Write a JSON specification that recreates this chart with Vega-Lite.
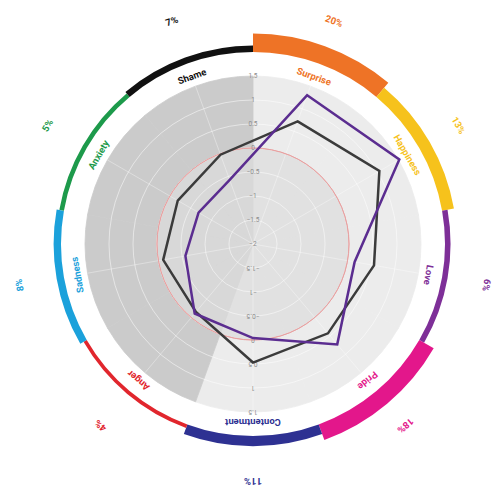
{
  "$schema": "https://vega.github.io/schema/vega-lite/v6.json",
  "width": 480,
  "height": 480,
  "autosize": {"type": "none"},
  "padding": {"left": 13, "top": 4, "right": 0, "bottom": 5},
  "background": "white",
  "config": {"view": {"stroke": null}, "font": "Roboto"},
  "datasets": {
    "cats": [
      {"idx": 0, "cat": "Surprise", "pct": 0.20, "valence": "positive"},
      {"idx": 1, "cat": "Happiness", "pct": 0.13, "valence": "positive"},
      {"idx": 2, "cat": "Love", "pct": 0.06, "valence": "positive"},
      {"idx": 3, "cat": "Pride", "pct": 0.18, "valence": "positive"},
      {"idx": 4, "cat": "Contentment", "pct": 0.11, "valence": "positive"},
      {"idx": 5, "cat": "Anger", "pct": 0.04, "valence": "negative"},
      {"idx": 6, "cat": "Sadness", "pct": 0.08, "valence": "negative"},
      {"idx": 7, "cat": "Anxiety", "pct": 0.05, "valence": "negative"},
      {"idx": 8, "cat": "Shame", "pct": 0.07, "valence": "negative"}
    ],
    "radar": [
      {"series": "A", "idx": 0, "cat": "Surprise", "value": 0.72},
      {"series": "A", "idx": 1, "cat": "Happiness", "value": 1.04},
      {"series": "A", "idx": 2, "cat": "Love", "value": 0.56},
      {"series": "A", "idx": 3, "cat": "Pride", "value": 0.43},
      {"series": "A", "idx": 4, "cat": "Contentment", "value": 0.47},
      {"series": "A", "idx": 5, "cat": "Anger", "value": -0.15},
      {"series": "A", "idx": 6, "cat": "Sadness", "value": -0.10},
      {"series": "A", "idx": 7, "cat": "Anxiety", "value": -0.19},
      {"series": "A", "idx": 8, "cat": "Shame", "value": -0.02},
      {"series": "B", "idx": 0, "cat": "Surprise", "value": 1.30},
      {"series": "B", "idx": 1, "cat": "Happiness", "value": 1.52},
      {"series": "B", "idx": 2, "cat": "Love", "value": 0.15},
      {"series": "B", "idx": 3, "cat": "Pride", "value": 0.73},
      {"series": "B", "idx": 4, "cat": "Contentment", "value": -0.04},
      {"series": "B", "idx": 5, "cat": "Anger", "value": -0.11},
      {"series": "B", "idx": 6, "cat": "Sadness", "value": -0.57},
      {"series": "B", "idx": 7, "cat": "Anxiety", "value": -0.69},
      {"series": "B", "idx": 8, "cat": "Shame", "value": -0.58}
    ],
    "ticks": [
      {"v": -2}, {"v": -1.5}, {"v": -1}, {"v": -0.5}, {"v": 0}, {"v": 0.5}, {"v": 1}, {"v": 1.5}
    ]
  },
  "layer": [
    {
      "data": {"name": "cats"},
      "transform": [{"window": [{"op": "row_number", "as": "end"}], "sort": [{"field": "idx", "order": "ascending"}]}],
      "mark": {"type": "arc", "radius": 168, "strokeWidth": 0.8},
      "encoding": {
        "theta": {"field": "idx", "type": "quantitative", "stack": null, "scale": {"domain": [0, 9], "range": [0, 6.283185307]}},
        "theta2": {"field": "end"},
        "color": {"field": "valence", "type": "nominal", "legend": null, "scale": {"domain": ["positive", "negative"], "range": ["#ececec", "#cbcbcb"]}},
        "stroke": {"field": "valence", "type": "nominal", "legend": null, "scale": {"domain": ["positive", "negative"], "range": ["#ececec", "#cbcbcb"]}}
      }
    },
    {
      "data": {"name": "cats"},
      "transform": [{"window": [{"op": "row_number", "as": "end2"}], "sort": [{"field": "idx", "order": "ascending"}]}],
      "mark": {"type": "arc", "outerRadius": 96, "strokeWidth": 0.8},
      "encoding": {
        "theta": {"field": "idx", "type": "quantitative", "stack": null, "scale": {"domain": [0, 9], "range": [0, 6.283185307]}},
        "theta2": {"field": "end2"},
        "color": {"field": "valence", "type": "nominal", "legend": null, "scale": {"domain": ["positive", "negative"], "range": ["#e1e1e1", "#d8d8d8"]}},
        "stroke": {"field": "valence", "type": "nominal", "legend": null, "scale": {"domain": ["positive", "negative"], "range": ["#e1e1e1", "#d8d8d8"]}}
      }
    },
    {
      "data": {"name": "cats"},
      "transform": [
        {"calculate": "0", "as": "ox"},
        {"calculate": "3.5 * sin((datum.idx * 40 + 20) * PI / 180)", "as": "ex"},
        {"calculate": "3.5 * cos((datum.idx * 40 + 20) * PI / 180)", "as": "ey"}
      ],
      "mark": {"type": "rule", "color": "#ffffff", "strokeOpacity": 0.35, "strokeWidth": 1},
      "encoding": {
        "x": {"field": "ox", "type": "quantitative", "axis": null, "scale": {"domain": [-5, 5]}},
        "y": {"field": "ox", "type": "quantitative", "axis": null, "scale": {"domain": [-5, 5]}},
        "x2": {"field": "ex"},
        "y2": {"field": "ey"}
      }
    },
    {
      "data": {"name": "ticks"},
      "transform": [{"filter": "datum.v > -2 && datum.v < 1.5 && datum.v != 0"}],
      "mark": {"type": "arc", "fillOpacity": 0, "fill": "#ffffff", "theta": 0, "theta2": 6.2832, "stroke": "#ffffff", "strokeOpacity": 0.5, "strokeWidth": 1},
      "encoding": {
        "radius": {"field": "v", "type": "quantitative", "stack": null, "scale": {"type": "linear", "domain": [-2, 3], "range": [0, 240]}}
      }
    },
    {
      "data": {"name": "ticks"},
      "transform": [{"filter": "datum.v == 0"}],
      "mark": {"type": "arc", "fillOpacity": 0, "fill": "#ffffff", "theta": 0, "theta2": 6.2832, "stroke": "#e6a2a2", "strokeWidth": 1},
      "encoding": {
        "radius": {"field": "v", "type": "quantitative", "stack": null, "scale": {"type": "linear", "domain": [-2, 3], "range": [0, 240]}}
      }
    },
    {
      "data": {"name": "cats"},
      "transform": [{"window": [{"op": "row_number", "as": "end"}], "sort": [{"field": "idx", "order": "ascending"}]}],
      "mark": {"type": "arc", "radius2": 192},
      "encoding": {
        "theta": {"field": "idx", "type": "quantitative", "stack": null, "scale": {"domain": [0, 9], "range": [0, 6.283185307]}},
        "theta2": {"field": "end"},
        "radius": {"field": "pct", "type": "quantitative", "stack": null, "scale": {"type": "linear", "domain": [0, 0.2], "range": [192, 210.5]}},
        "color": {"field": "cat", "type": "nominal", "legend": null, "scale": {"domain": ["Surprise", "Happiness", "Love", "Pride", "Contentment", "Anger", "Sadness", "Anxiety", "Shame"], "range": ["#ee7326", "#f6c21c", "#7e2f98", "#e3178b", "#2e3192", "#e1262d", "#1ba1db", "#1d9a4b", "#111111"]}}
      }
    },
    {
      "data": {"name": "cats"},
      "mark": {"type": "text", "radius": 178, "fontSize": 9.5, "fontWeight": "bold", "align": "center", "baseline": "middle"},
      "encoding": {
        "theta": {"field": "idx", "type": "quantitative", "stack": null, "scale": {"domain": [-0.5, 8.5], "range": [0, 6.283185307]}},
        "angle": {"field": "idx", "type": "quantitative", "scale": {"domain": [0, 9], "range": [20, 380]}},
        "text": {"field": "cat", "type": "nominal"},
        "color": {"field": "cat", "type": "nominal", "legend": null, "scale": {"domain": ["Surprise", "Happiness", "Love", "Pride", "Contentment", "Anger", "Sadness", "Anxiety", "Shame"], "range": ["#ee7326", "#f6c21c", "#7e2f98", "#e3178b", "#2e3192", "#e1262d", "#1ba1db", "#1d9a4b", "#111111"]}}
      }
    },
    {
      "data": {"name": "cats"},
      "mark": {"type": "text", "radius": 237, "fontSize": 9.5, "fontWeight": "bold", "align": "center", "baseline": "middle"},
      "encoding": {
        "theta": {"field": "idx", "type": "quantitative", "stack": null, "scale": {"domain": [-0.5, 8.5], "range": [0, 6.283185307]}},
        "angle": {"field": "idx", "type": "quantitative", "scale": {"domain": [0, 9], "range": [20, 380]}},
        "text": {"field": "pct", "type": "quantitative", "format": ".0%"},
        "color": {"field": "cat", "type": "nominal", "legend": null, "scale": {"domain": ["Surprise", "Happiness", "Love", "Pride", "Contentment", "Anger", "Sadness", "Anxiety", "Shame"], "range": ["#ee7326", "#f6c21c", "#7e2f98", "#e3178b", "#2e3192", "#e1262d", "#1ba1db", "#1d9a4b", "#111111"]}}
      }
    },
    {
      "data": {"name": "ticks"},
      "mark": {"type": "text", "theta": 0, "fontSize": 6.5, "color": "#8c8c8c", "align": "center", "baseline": "middle"},
      "encoding": {
        "radius": {"field": "v", "type": "quantitative", "scale": {"type": "linear", "domain": [-2, 3], "range": [0, 240]}},
        "text": {"field": "v", "type": "quantitative", "format": "~g"}
      }
    },
    {
      "data": {"name": "ticks"},
      "transform": [{"filter": "datum.v > -2"}],
      "mark": {"type": "text", "theta": 3.14159265, "angle": 180, "fontSize": 6.5, "color": "#8c8c8c", "align": "center", "baseline": "middle"},
      "encoding": {
        "radius": {"field": "v", "type": "quantitative", "scale": {"type": "linear", "domain": [-2, 3], "range": [0, 240]}},
        "text": {"field": "v", "type": "quantitative", "format": "~g"}
      }
    },
    {
      "data": {"name": "radar"},
      "transform": [
        {"calculate": "(datum.value + 2) * sin((datum.idx * 40 + 20) * PI / 180)", "as": "px"},
        {"calculate": "(datum.value + 2) * cos((datum.idx * 40 + 20) * PI / 180)", "as": "py"}
      ],
      "mark": {"type": "line", "interpolate": "linear-closed", "strokeWidth": 2.5},
      "encoding": {
        "x": {"field": "px", "type": "quantitative", "axis": null, "scale": {"domain": [-5, 5]}},
        "y": {"field": "py", "type": "quantitative", "axis": null, "scale": {"domain": [-5, 5]}},
        "order": {"field": "idx", "type": "quantitative"},
        "color": {"field": "series", "type": "nominal", "legend": null, "scale": {"domain": ["A", "B"], "range": ["#3b3b3b", "#5b2d90"]}}
      }
    }
  ],
  "resolve": {"scale": {"theta": "independent", "radius": "independent", "color": "independent", "stroke": "independent", "angle": "independent"}}
}
